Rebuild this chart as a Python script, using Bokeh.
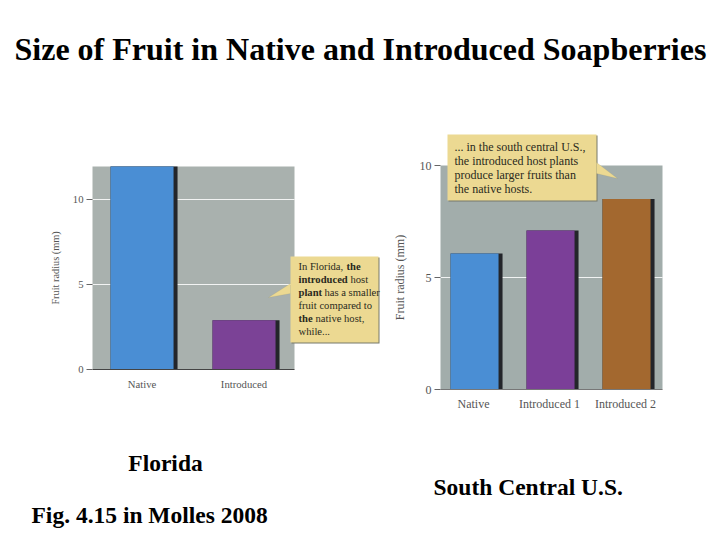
from bokeh.plotting import figure
from bokeh.models import (Range1d, FixedTicker, Label, BoxAnnotation, PolyAnnotation,
                          LinearAxis)
from bokeh.transform import dodge
from bokeh.embed import file_html
from bokeh.resources import INLINE

title_text = "Size of Fruit in Native and Introduced Soapberries"
florida_cats = ["Native", "Introduced"]
florida_vals = [12.0, 2.9]
florida_cols = ["#4a8ed4", "#7b4296"]
south_cats = ["Native", "Introduced 1", "Introduced 2"]
south_vals = [6.07, 7.1, 8.5]
south_cols = ["#4a8ed4", "#7b3f98", "#a3682f"]
y_ticks = [0, 5, 10]
y_label = "Fruit radius (mm)"
SERIF = "Liberation Serif"
NOTE = "#ecd992"
W, H = 720, 540

p = figure(width=W, height=H, output_backend="svg", toolbar_location=None,
           x_range=Range1d(0, W), y_range=Range1d(H, 0), min_border=0,
           outline_line_color=None, x_axis_type=None, y_axis_type=None,
           background_fill_color="white", border_fill_color="white")
p.grid.visible = False


def chart(name, cats, vals, cols, box, y_per_unit, cx, step, shift, bar_px, shadow_px,
          tick_px, axis_px, ystand, xstand, panel, axis_color):
    L, R, T, B = box
    xn, yn = name + "_x", name + "_y"
    p.extra_x_ranges[xn] = Range1d((0 - cx) / step, (W - cx) / step)
    p.extra_y_ranges[yn] = Range1d((B - H) / y_per_unit, B / y_per_unit)
    x0, x1 = (L - cx) / step, (R - cx) / step
    ytop = (B - T) / y_per_unit
    kw = dict(x_range_name=xn, y_range_name=yn)
    p.quad(left=[x0], right=[x1], bottom=[0], top=[ytop], fill_color=panel, line_color=None,
           level="image", **kw)
    grid = [t for t in y_ticks if 0 < t < ytop]
    p.segment(x0=[x0] * len(grid), x1=[x1] * len(grid), y0=grid, y1=grid, line_color="white",
              line_alpha=0.85, line_width=1, level="underlay", **kw)
    src = dict(x=list(range(len(cats))), top=[min(v, ytop) for v in vals], color=cols)
    p.vbar(x=dodge("x", shift), top="top", width=bar_px / step, source=src,
           fill_color="#23252a", line_color=None, **kw)
    p.vbar(x=dodge("x", shift - shadow_px / step / 2), top="top",
           width=(bar_px - shadow_px) / step, source=src, fill_color="color", line_color=None, **kw)
    yaxis = LinearAxis(fixed_location=x0, bounds=(0, ytop),
                       ticker=FixedTicker(ticks=y_ticks), axis_label=y_label,
                       axis_label_text_font=SERIF, axis_label_text_font_style="normal",
                       axis_label_text_font_size=axis_px, axis_label_text_color="#555555",
                       axis_label_standoff=ystand, major_label_text_font=SERIF,
                       major_label_text_font_size=tick_px, major_label_text_color="#555555",
                       major_tick_out=6, major_tick_in=0, minor_tick_line_color=None,
                       axis_line_color=None, major_tick_line_color="#666666",
                       major_label_standoff=3, **kw)
    xaxis = LinearAxis(fixed_location=0, bounds=(x0, x1),
                       ticker=FixedTicker(ticks=src["x"]),
                       major_label_overrides=dict(zip(src["x"], cats)),
                       major_tick_line_color=None, minor_tick_line_color=None,
                       axis_line_color=axis_color, major_label_text_font=SERIF,
                       major_label_text_font_size=tick_px, major_label_text_color="#555555",
                       major_label_standoff=xstand, **kw)
    p.add_layout(yaxis, "left")
    p.add_layout(xaxis, "below")


def text(x, y, s, size, bold=False, color="#000000", align="left"):
    p.add_layout(Label(x=x, y=y, x_units="canvas", y_units="canvas", text=s, level="overlay",
                       text_font=SERIF, text_font_size=size, text_color=color,
                       text_font_style="bold" if bold else "normal",
                       text_align=align, text_baseline="middle"))


def note(l, r, t, b, tail_x, tail_y):
    u = dict(left_units="canvas", right_units="canvas", top_units="canvas", bottom_units="canvas",
             level="overlay", line_color=None, fill_alpha=1)
    p.add_layout(BoxAnnotation(left=l + 1, right=r + 1, top=t + 1, bottom=b + 1,
                               fill_color="#77786a", **u))
    p.add_layout(PolyAnnotation(xs=tail_x, ys=tail_y, xs_units="canvas", ys_units="canvas",
                                level="overlay", fill_color=NOTE, fill_alpha=1,
                                line_color="#8f8a68", line_width=0.5))
    p.add_layout(BoxAnnotation(left=l, right=r, top=t, bottom=b, fill_color=NOTE, **u))


chart("fl", florida_cats, florida_vals, florida_cols, (92, 294, 166, 369), 17.0,
      141.5, 102, 0.02, 67, 4, "10.7px", "10.3px", 9, 2, "#a9b1ae", "#444444")
chart("sc", south_cats, south_vals, south_cols, (440, 662, 165, 389), 22.4,
      473, 76, 0.04, 52, 4, "12px", "12px", 10, 1, "#a2adab", "#777777")

text(14, 48, title_text, "32px", bold=True)

note(290, 378, 256, 342, [290, 268, 290], [283, 297, 293])
seg = [("In Florida,", 298, 266, False), ("the", 346, 266, True),
       ("introduced", 298, 279, True), ("host", 350, 279, False),
       ("plant", 298, 292, True), ("has a smaller", 324, 292, False),
       ("fruit compared to", 298, 305, False),
       ("the", 298, 318, True), ("native host,", 315, 318, False),
       ("while...", 298, 331, False)]
for s, x, y, b in seg:
    text(x, y, s, "10.6px", bold=b, color="#2a2a20")
text(165, 462, "Florida", "23.5px", bold=True, align="center")
text(31, 514, "Fig. 4.15 in Molles 2008", "23.5px", bold=True)

note(447, 596, 134, 200, [596, 617, 596], [162, 178, 173])
for s, y in [("... in the south central U.S.,", 146), ("the introduced host plants", 160),
             ("produce larger fruits than", 174), ("the native hosts.", 188)]:
    text(454, y, s, "12px", color="#2a2a20")
text(433, 486, "South Central U.S.", "23.5px", bold=True)

open("out.html", "w").write(file_html(p, INLINE))
